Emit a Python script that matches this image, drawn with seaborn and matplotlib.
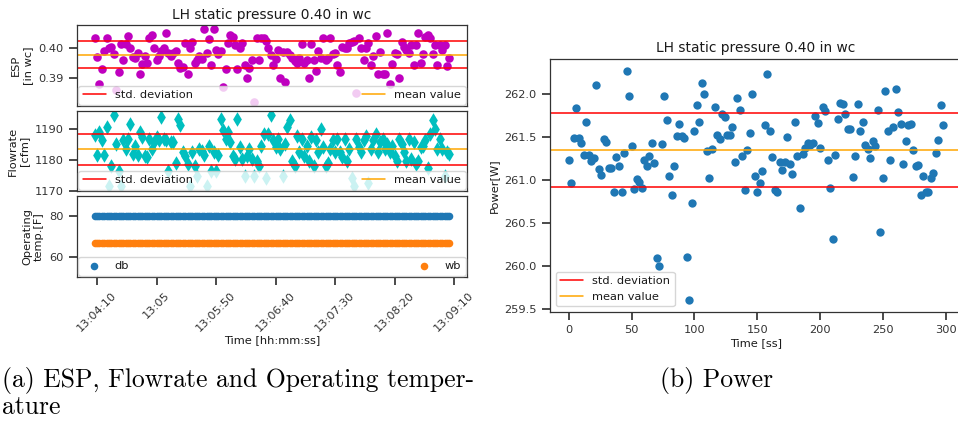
import numpy as np
import pandas as pd
import matplotlib
matplotlib.use("Agg")
import matplotlib.pyplot as plt
import seaborn as sns
from matplotlib.ticker import MultipleLocator, FuncFormatter

# ---------------------------------------------------------------- data
# Test run "LH static pressure 0.40 in wc", one sample every 2 s.
start_clock = "13:04:08"
sample_step_s = 2

esp_in_wc = [
    0.4033, 0.3968, 0.3880, 0.3928, 0.3989, 0.4033, 0.4000, 0.4003, 0.3978, 0.3859,
    0.3920, 0.4011, 0.3960, 0.4011, 0.4039, 0.4000, 0.3970, 0.3967, 0.3982, 0.3911,
    0.3947, 0.3972, 0.3949, 0.4033, 0.4041, 0.4000, 0.3960, 0.3971, 0.3989, 0.4000,
    0.4050, 0.3982, 0.3971, 0.3982, 0.3989, 0.3948, 0.3933, 0.3937, 0.4014, 0.3911,
    0.4000, 0.4020, 0.3948, 0.3959, 0.3971, 0.3963, 0.4061, 0.3982, 0.4030, 0.3943,
    0.4063, 0.3992, 0.3978, 0.3989, 0.3870, 0.3929, 0.4014, 0.4041, 0.4035, 0.4009,
    0.3929, 0.3998, 0.4014, 0.3943, 0.3900, 0.3933, 0.3960, 0.3818, 0.4033, 0.3960,
    0.4033, 0.4033, 0.4022, 0.3998, 0.3976, 0.3943, 0.3963, 0.3992, 0.3900, 0.3987,
    0.3884, 0.3987, 0.3974, 0.3967, 0.3957, 0.3949, 0.3965, 0.4012, 0.3949, 0.3960,
    0.3900, 0.4011, 0.3960, 0.3922, 0.3989, 0.3967, 0.4033, 0.3960, 0.3967, 0.4033,
    0.3978, 0.3982, 0.3943, 0.3920, 0.4003, 0.3998, 0.3998, 0.4014, 0.4020, 0.4022,
    0.3850, 0.4033, 0.3998, 0.3960, 0.3998, 0.4014, 0.3943, 0.3971, 0.4037, 0.3911,
    0.3987, 0.3911, 0.3911, 0.4048, 0.3878, 0.3947, 0.3982, 0.3978, 0.3900, 0.4020,
    0.4003, 0.3992, 0.3982, 0.4009, 0.3941, 0.4009, 0.4047, 0.3949, 0.3978, 0.4036,
    0.4041, 0.4033, 0.3978, 0.4009, 0.3943, 0.4009, 0.3992, 0.4009, 0.3938, 0.3967,
]

flow_cfm = [
    1188.2, 1181.6, 1189.3, 1186.4, 1181.6, 1190.8, 1171.5, 1178.1, 1194.8, 1185.3,
    1176.5, 1171.5, 1186.4, 1183.6, 1186.9, 1191.9, 1182.0, 1184.7, 1181.6, 1189.1,
    1187.5, 1181.4, 1180.9, 1186.9, 1183.6, 1185.8, 1187.5, 1186.4, 1194.1, 1186.9,
    1186.4, 1176.5, 1185.8, 1185.8, 1179.2, 1193.5, 1191.3, 1182.5, 1181.4, 1178.7,
    1171.5, 1182.5, 1178.1, 1174.8, 1183.6, 1183.1, 1181.6, 1171.5, 1184.7, 1176.5,
    1182.5, 1176.5, 1181.6, 1193.5, 1189.7, 1186.9, 1189.1, 1185.8, 1181.4, 1180.3,
    1193.5, 1184.2, 1180.3, 1174.8, 1181.4, 1183.6, 1180.3, 1174.8, 1179.8, 1178.1,
    1184.7, 1188.6, 1174.3, 1188.6, 1194.6, 1186.4, 1184.2, 1186.9, 1183.6, 1174.8,
    1185.3, 1190.8, 1193.0, 1179.8, 1178.1, 1188.0, 1182.5, 1186.9, 1181.4, 1184.7,
    1179.8, 1187.5, 1178.1, 1186.4, 1182.5, 1190.2, 1184.2, 1178.1, 1179.2, 1183.6,
    1186.4, 1182.5, 1186.9, 1182.5, 1180.9, 1186.9, 1179.8, 1183.6, 1174.3, 1171.5,
    1186.9, 1184.2, 1182.5, 1186.4, 1188.0, 1172.6, 1183.6, 1186.4, 1188.6, 1182.5,
    1185.8, 1186.9, 1183.6, 1185.3, 1182.5, 1184.7, 1181.4, 1179.8, 1186.9, 1185.3,
    1182.5, 1179.8, 1186.9, 1180.3, 1185.8, 1178.7, 1179.8, 1184.2, 1184.7, 1186.4,
    1177.6, 1188.6, 1193.0, 1190.2, 1183.6, 1186.9, 1183.6, 1174.8, 1182.5, 1182.0,
]

temp_db_F = [
    80.0, 80.1, 80.0, 79.9, 80.0, 80.1, 80.0, 80.0, 79.9, 80.0,
    80.1, 80.0, 79.9, 80.0, 80.0, 80.1, 80.0, 79.9, 80.0, 80.0,
    80.0, 79.9, 80.0, 80.1, 80.0, 80.0, 79.9, 80.0, 80.1, 80.0,
    79.9, 80.0, 80.0, 80.1, 80.0, 79.9, 80.0, 80.0, 80.1, 80.0,
    80.0, 80.1, 79.9, 80.0, 80.0, 80.0, 80.1, 80.0, 79.9, 80.0,
    80.1, 80.0, 80.0, 79.9, 80.0, 80.1, 80.0, 80.0, 79.9, 80.0,
    80.0, 79.9, 80.0, 80.0, 80.1, 80.0, 79.9, 80.0, 80.1, 80.0,
    80.0, 80.1, 80.0, 79.9, 80.0, 80.0, 80.1, 80.0, 79.9, 80.0,
    79.9, 80.0, 80.1, 80.0, 80.0, 79.9, 80.0, 80.1, 80.0, 80.0,
    80.1, 80.0, 79.9, 80.0, 80.1, 80.0, 80.0, 79.9, 80.0, 80.1,
    80.0, 80.0, 80.1, 79.9, 80.0, 80.0, 80.1, 80.0, 79.9, 80.0,
    79.9, 80.0, 80.0, 80.1, 80.0, 79.9, 80.0, 80.1, 80.0, 80.0,
    80.1, 80.0, 79.9, 80.0, 80.0, 80.1, 80.0, 80.0, 79.9, 80.0,
    80.0, 79.9, 80.1, 80.0, 80.0, 80.0, 79.9, 80.1, 80.0, 80.0,
    80.1, 80.0, 80.0, 79.9, 80.0, 80.1, 80.0, 79.9, 80.0, 80.0,
]

temp_wb_F = [
    66.9, 67.0, 66.9, 66.8, 66.9, 67.0, 66.9, 66.9, 66.8, 66.9,
    67.0, 66.9, 66.8, 66.9, 66.9, 67.0, 66.9, 66.8, 66.9, 66.9,
    66.9, 66.8, 66.9, 67.0, 66.9, 66.9, 66.8, 66.9, 67.0, 66.9,
    66.8, 66.9, 66.9, 67.0, 66.9, 66.8, 66.9, 66.9, 67.0, 66.9,
    66.9, 67.0, 66.8, 66.9, 66.9, 66.9, 67.0, 66.9, 66.8, 66.9,
    67.0, 66.9, 66.9, 66.8, 66.9, 67.0, 66.9, 66.9, 66.8, 66.9,
    66.9, 66.8, 66.9, 66.9, 67.0, 66.9, 66.8, 66.9, 67.0, 66.9,
    66.9, 67.0, 66.9, 66.8, 66.9, 66.9, 67.0, 66.9, 66.8, 66.9,
    66.8, 66.9, 67.0, 66.9, 66.9, 66.8, 66.9, 67.0, 66.9, 66.9,
    67.0, 66.9, 66.8, 66.9, 67.0, 66.9, 66.9, 66.8, 66.9, 67.0,
    66.9, 66.9, 67.0, 66.8, 66.9, 66.9, 67.0, 66.9, 66.8, 66.9,
    66.8, 66.9, 66.9, 67.0, 66.9, 66.8, 66.9, 67.0, 66.9, 66.9,
    67.0, 66.9, 66.8, 66.9, 66.9, 67.0, 66.9, 66.9, 66.8, 66.9,
    66.9, 66.8, 67.0, 66.9, 66.9, 66.9, 66.8, 67.0, 66.9, 66.9,
    67.0, 66.9, 66.9, 66.8, 66.9, 67.0, 66.9, 66.8, 66.9, 66.9,
]

power_W = [
    261.23, 260.96, 261.49, 261.84, 261.49, 261.43, 261.29, 261.67, 261.29, 261.22,
    261.26, 262.10, 261.13, 261.06, 261.48, 261.44, 261.14, 261.14, 260.86, 261.27,
    261.16, 260.86, 261.31, 262.27, 261.97, 261.39, 260.89, 261.01, 260.97, 260.91,
    261.23, 261.16, 261.28, 261.43, 261.20, 260.09, 260.00, 261.42, 261.97, 261.69,
    261.04, 260.83, 261.16, 261.51, 261.65, 261.51, 261.49, 260.10, 259.60, 260.73,
    261.57, 261.87, 261.67, 262.12, 262.00, 261.33, 261.02, 261.36, 261.85, 261.52,
    261.48, 261.77, 261.73, 261.52, 261.52, 261.61, 261.21, 261.95, 261.81, 261.28,
    260.88, 261.35, 261.54, 262.00, 261.04, 260.86, 260.96, 261.10, 261.64, 262.23,
    261.57, 261.27, 260.88, 260.86, 261.21, 261.12, 261.21, 261.50, 261.19, 261.07,
    261.67, 261.28, 260.67, 261.30, 261.37, 261.43, 261.40, 261.43, 261.74, 261.66,
    261.37, 261.85, 261.80, 261.23, 260.91, 260.31, 261.29, 261.71, 261.89, 261.88,
    261.76, 261.59, 261.59, 261.03, 261.28, 261.88, 261.57, 261.67, 261.40, 261.36,
    261.26, 261.45, 261.39, 261.81, 260.39, 261.02, 262.03, 261.57, 261.23, 261.61,
    262.06, 261.79, 261.65, 261.18, 261.45, 261.64, 261.65, 261.35, 261.16, 261.17,
    260.83, 261.04, 260.86, 260.86, 261.02, 261.08, 261.31, 261.46, 261.87, 261.64,
]

title = "LH static pressure 0.40 in wc"


# ---------------------------------------------------------------- helpers
def clock_to_seconds(text):
    h, m, s = (int(p) for p in text.split(":"))
    return h * 3600 + m * 60 + s


def clock_label(x, pos=None):
    """hh:mm:ss, or hh:mm when the seconds are zero."""
    total = int(round(x))
    h, rem = divmod(total, 3600)
    m, s = divmod(rem, 60)
    if s == 0:
        return f"{h:02d}:{m:02d}"
    return f"{h:02d}:{m:02d}:{s:02d}"


left = pd.DataFrame({
    "time": clock_to_seconds(start_clock) + sample_step_s * np.arange(len(esp_in_wc)),
    "esp": esp_in_wc,
    "flow": flow_cfm,
    "db": temp_db_F,
    "wb": temp_wb_F,
})
right = pd.DataFrame({
    "time": sample_step_s * np.arange(len(power_W)),
    "power": power_W,
})

# ---------------------------------------------------------------- style
sns.set_theme(style="ticks", color_codes=False, rc={
    "axes.edgecolor": "0.2",
    "axes.linewidth": 0.9,
    "xtick.color": "0.2",
    "ytick.color": "0.2",
    "axes.labelcolor": "0.1",
    "text.color": "0.1",
})
plt.rcParams["font.family"] = ["DejaVu Sans"]
FS = 8.2
TITLE_FS = 9.9
plt.rcParams.update({
    "font.size": FS,
    "xtick.labelsize": FS,
    "ytick.labelsize": FS,
    "axes.labelsize": FS,
    "legend.fontsize": FS,
    "axes.titlesize": TITLE_FS,
})

MAGENTA = "#bf00bf"
CYAN = "#00bfbf"
BLUE = "#1f77b4"
ORANGE = "#ff7f0e"

W, H = 958, 426
fig = plt.figure(figsize=(W / 100, H / 100), dpi=100)


def box(x0, y0, x1, y1):
    return [x0 / W, 1 - y1 / H, (x1 - x0) / W, (y1 - y0) / H]


ax_esp = fig.add_axes(box(77, 25, 467, 106))
ax_flow = fig.add_axes(box(77, 111, 467, 191), sharex=ax_esp)
ax_temp = fig.add_axes(box(77, 196, 467, 277), sharex=ax_esp)
ax_pow = fig.add_axes(box(550, 59, 962, 312))

LINE_W = 1.1
leg_kw = dict(loc="lower left", ncol=2, mode="expand",
              bbox_to_anchor=(0, 0, 1, 1), borderaxespad=0.12,
              handlelength=2.0)


def stat_lines(ax, values):
    mu, sd = np.mean(values), np.std(values)
    ax.axhline(mu + sd, color="red", lw=LINE_W, label="std. deviation")
    ax.axhline(mu - sd, color="red", lw=LINE_W)
    ax.axhline(mu, color="orange", lw=LINE_W, label="mean value")


# ESP
sns.scatterplot(data=left, x="time", y="esp", ax=ax_esp, color=MAGENTA,
                s=38, linewidth=0, legend=False)
stat_lines(ax_esp, left["esp"])
ax_esp.legend(**leg_kw)
ax_esp.set_yticks([0.39, 0.40])
ax_esp.set_ylabel("ESP\n[in wc]")
ax_esp.set_title(title, pad=4)

# Flowrate
sns.scatterplot(data=left, x="time", y="flow", ax=ax_flow, color=CYAN,
                marker="d", s=55, linewidth=0, legend=False)
stat_lines(ax_flow, left["flow"])
ax_flow.legend(**leg_kw)
ax_flow.set_yticks([1170, 1180, 1190])
ax_flow.set_ylabel("Flowrate\n[cfm]")

# Operating temperatures
sns.scatterplot(data=left, x="time", y="db", ax=ax_temp, color=BLUE,
                s=30, linewidth=0, label="db")
sns.scatterplot(data=left, x="time", y="wb", ax=ax_temp, color=ORANGE,
                s=30, linewidth=0, label="wb")
ax_temp.set_ylim(50, 90)
ax_temp.set_yticks([60, 80])
ax_temp.legend(**leg_kw)
ax_temp.set_ylabel("Operating\ntemp.[F]")
ax_temp.set_xlabel("Time [hh:mm:ss]", labelpad=1)

ax_temp.xaxis.set_major_locator(MultipleLocator(50))
ax_temp.xaxis.set_major_formatter(FuncFormatter(clock_label))
for lab in ax_temp.get_xticklabels():
    lab.set_rotation(45)
    lab.set_ha("center")
for ax in (ax_esp, ax_flow):
    ax.tick_params(axis="x", labelbottom=False, length=0)
    ax.set_xlabel("")

# Power
sns.scatterplot(data=right, x="time", y="power", ax=ax_pow, color=BLUE,
                s=36, linewidth=0, legend=False)
stat_lines(ax_pow, right["power"])
ax_pow.legend(loc="lower left")
ax_pow.set_xlabel("Time [ss]", labelpad=2)
ax_pow.set_ylabel("Power[W]")
ax_pow.set_title(title, pad=5)

# Sub-figure captions
cap = dict(family="cmr10", fontsize=18.5, va="baseline", color="black")
fig.text(2 / W, 1 - 387 / H, "(a) ESP, Flowrate and Operating temper-", **cap)
fig.text(2 / W, 1 - 414 / H, "ature", **cap)
fig.text(660 / W, 1 - 387 / H, "(b) Power", **cap)

fig.savefig("out.png", dpi=100)
